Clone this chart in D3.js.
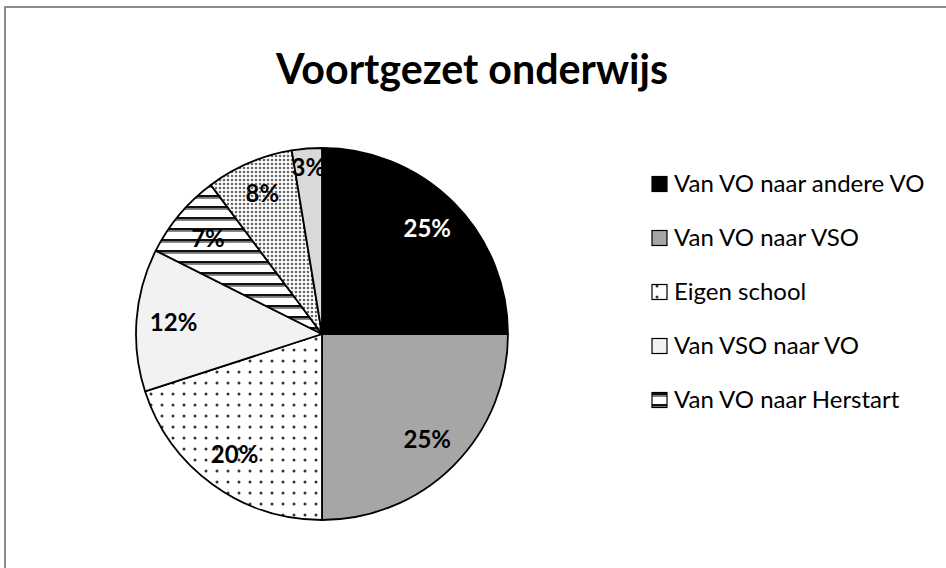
<!DOCTYPE html>
<html>
<head>
  <meta charset="utf-8">
  <title>Voortgezet onderwijs</title>
  <script src="https://d3js.org/d3.v7.min.js"></script>
  <style>
    body { margin: 0; background: #fff; }
    svg text { font-family: Lato, "Open Sans", sans-serif; }
  </style>
</head>
<body>
  <div id="chart"></div>

  <script>
    // data (percent of total)
    var title = "Voortgezet onderwijs";
    var categories = ["Van VO naar andere VO", "Van VO naar VSO", "Eigen school",
                      "Van VSO naar VO", "Van VO naar Herstart", "Overig", "Onbekend"];
    var values = [25, 25, 20, 12.4, 7.4, 7.6, 2.6];
    var legendShown = 5; // only the first five fit in the legend

    var width = 946, height = 568;
    var cx = 322, cy = 334, radius = 186;

    var svg = d3.select("#chart").append("svg")
      .attr("width", width)
      .attr("height", height);

    var defs = svg.append("defs");

    // sparse dots (Eigen school)
    var p1 = defs.append("pattern").attr("id", "dotsSparse")
      .attr("patternUnits", "userSpaceOnUse").attr("width", 11).attr("height", 11);
    p1.append("rect").attr("width", 11).attr("height", 11).attr("fill", "#fff");
    p1.append("circle").attr("cx", 5).attr("cy", 5).attr("r", 1.5).attr("fill", "#333");

    // horizontal stripes (Herstart)
    var p2 = defs.append("pattern").attr("id", "stripes")
      .attr("patternUnits", "userSpaceOnUse").attr("width", 10).attr("height", 11);
    p2.append("rect").attr("width", 10).attr("height", 11).attr("fill", "#fff");
    p2.append("rect").attr("y", 4).attr("width", 10).attr("height", 2.6).attr("fill", "#111");
    p2.append("rect").attr("y", 6.6).attr("width", 10).attr("height", 1.4).attr("fill", "#888");

    // dense dots
    var p3 = defs.append("pattern").attr("id", "dotsDense")
      .attr("patternUnits", "userSpaceOnUse").attr("width", 4).attr("height", 4);
    p3.append("rect").attr("width", 4).attr("height", 4).attr("fill", "#fff");
    p3.append("circle").attr("cx", 2).attr("cy", 2).attr("r", 1.3).attr("fill", "#666");

    var fills = ["#000000", "#a6a6a6", "url(#dotsSparse)", "#f2f2f2",
                 "url(#stripes)", "url(#dotsDense)", "#d9d9d9"];
    var labelColors = ["#fff", "#000", "#000", "#000", "#000", "#000", "#000"];
    var labelRadius = [0.8, 0.8, 0.8, 0.8, 0.8, 0.82, 0.9];

    // chart area border (only top and left edges are in view)
    svg.append("rect")
      .attr("x", 5).attr("y", 7)
      .attr("width", width + 20).attr("height", height + 20)
      .attr("fill", "none")
      .attr("stroke", "#8c8c8c")
      .attr("stroke-width", 2);

    svg.append("text")
      .attr("x", 472)
      .attr("y", 84)
      .attr("text-anchor", "middle")
      .attr("font-size", 42)
      .attr("font-weight", "bold")
      .attr("textLength", 392)
      .attr("lengthAdjust", "spacingAndGlyphs")
      .text(title);

    var total = d3.sum(values);
    var pie = d3.pie().sort(null).value(function(d) { return d; });
    var arcs = pie(values);
    var arc = d3.arc().innerRadius(0).outerRadius(radius);
    var fmt = d3.format(".0%");

    var g = svg.append("g").attr("transform", "translate(" + cx + "," + cy + ")");

    g.selectAll("path")
      .data(arcs)
      .enter()
      .append("path")
      .attr("d", arc)
      .attr("fill", function(d, i) { return fills[i]; })
      .attr("stroke", "#000")
      .attr("stroke-width", 1.8)
      .attr("stroke-linejoin", "round");

    g.selectAll("text")
      .data(arcs)
      .enter()
      .append("text")
      .attr("transform", function(d, i) {
        var r = radius * labelRadius[i];
        var a = (d.startAngle + d.endAngle) / 2;
        return "translate(" + (r * Math.sin(a)) + "," + (-r * Math.cos(a)) + ")";
      })
      .attr("text-anchor", "middle")
      .attr("dy", "0.35em")
      .attr("font-size", 24)
      .attr("font-weight", "bold")
      .attr("fill", function(d, i) { return labelColors[i]; })
      .text(function(d) { return fmt(d.value / total); });

    // legend
    var legendY = d3.scalePoint()
      .domain(d3.range(legendShown))
      .range([184, 400]);

    var legend = svg.append("g").selectAll("g")
      .data(categories.slice(0, legendShown))
      .enter()
      .append("g")
      .attr("transform", function(d, i) { return "translate(652," + legendY(i) + ")"; });

    legend.append("rect")
      .attr("x", 0).attr("y", -7.5)
      .attr("width", 15).attr("height", 15)
      .attr("fill", function(d, i) { return fills[i]; })
      .attr("stroke", "#000")
      .attr("stroke-width", 1.2);

    legend.append("text")
      .attr("x", 22)
      .attr("dy", "0.35em")
      .attr("font-size", 24)
      .text(function(d) { return d; });
  </script>
</body>
</html>
